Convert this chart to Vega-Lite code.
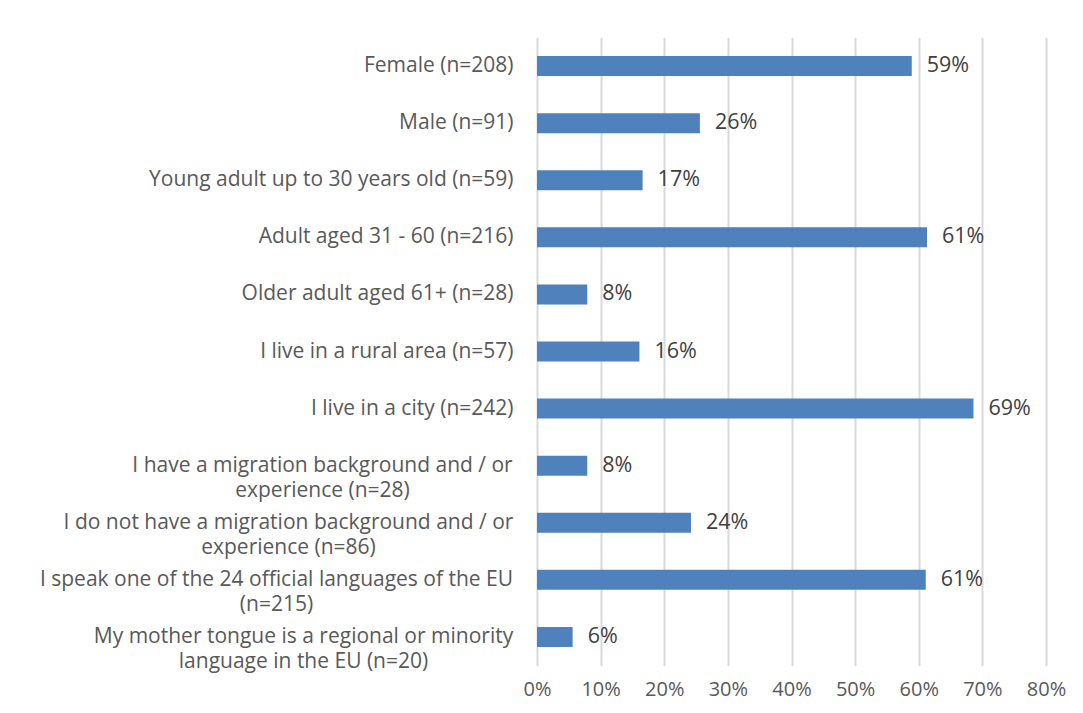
{
  "$schema": "https://vega.github.io/schema/vega-lite/v6.json",
  "autosize": "none",
  "width": 509,
  "height": 628,
  "padding": {"left": 537, "top": 37.5, "right": 37, "bottom": 47.5},
  "background": "white",
  "config": {
    "view": {"stroke": null},
    "font": "Open Sans"
  },
  "data": {
    "values": [
      {"label": "Female (n=208)", "value": 0.589},
      {"label": "Male (n=91)", "value": 0.256},
      {"label": "Young adult up to 30 years old (n=59)", "value": 0.166},
      {"label": "Adult aged 31 - 60 (n=216)", "value": 0.613},
      {"label": "Older adult aged 61+ (n=28)", "value": 0.079},
      {"label": "I live in a rural area (n=57)", "value": 0.161},
      {"label": "I live in a city (n=242)", "value": 0.686},
      {"label": "I have a migration background and / or|experience (n=28)", "value": 0.079},
      {"label": "I do not have a migration background and / or|experience (n=86)", "value": 0.242},
      {"label": "I speak one of the 24 official languages of the EU|(n=215)", "value": 0.611},
      {"label": "My mother tongue is a regional or minority|language in the EU (n=20)", "value": 0.056}
    ]
  },
  "encoding": {
    "y": {
      "field": "label",
      "type": "nominal",
      "sort": null,
      "scale": {"paddingInner": 0.65, "paddingOuter": 0.325},
      "axis": {
        "title": null,
        "domain": false,
        "ticks": false,
        "labelExpr": "split(datum.label, '|')",
        "labelFont": "Open Sans",
        "labelFontSize": 21,
        "labelColor": "#595959",
        "labelLimit": 800,
        "labelLineHeight": 25,
        "labelOverlap": false,
        "labelAlign": {"condition": {"test": "indexof(datum.value, '|') >= 0", "value": "center"}, "value": "right"},
        "labelPadding": {
          "condition": [
            {"test": "indexof(datum.value, 'I have a migration') == 0", "value": 215},
            {"test": "indexof(datum.value, 'I do not have') == 0", "value": 249},
            {"test": "indexof(datum.value, 'I speak') == 0", "value": 261},
            {"test": "indexof(datum.value, 'My mother') == 0", "value": 234}
          ],
          "value": 24
        }
      }
    },
    "x": {
      "field": "value",
      "type": "quantitative",
      "scale": {"domain": [0, 0.8], "nice": false},
      "axis": {
        "title": null,
        "format": ".0%",
        "values": [0, 0.1, 0.2, 0.3, 0.4, 0.5, 0.6, 0.7, 0.8],
        "domain": false,
        "ticks": false,
        "grid": true,
        "gridColor": "#d9d9d9",
        "gridWidth": 2,
        "labelFont": "Open Sans",
        "labelFontSize": 20,
        "labelColor": "#595959",
        "labelPadding": 14,
        "labelFlush": false,
        "labelOverlap": false
      }
    }
  },
  "layer": [
    {"mark": {"type": "bar", "color": "#4f81bd"}},
    {
      "mark": {"type": "text", "align": "left", "dx": 15, "fontSize": 21.5, "color": "#404040", "font": "Open Sans"},
      "encoding": {"text": {"field": "value", "type": "quantitative", "format": ".0%"}}
    }
  ]
}
